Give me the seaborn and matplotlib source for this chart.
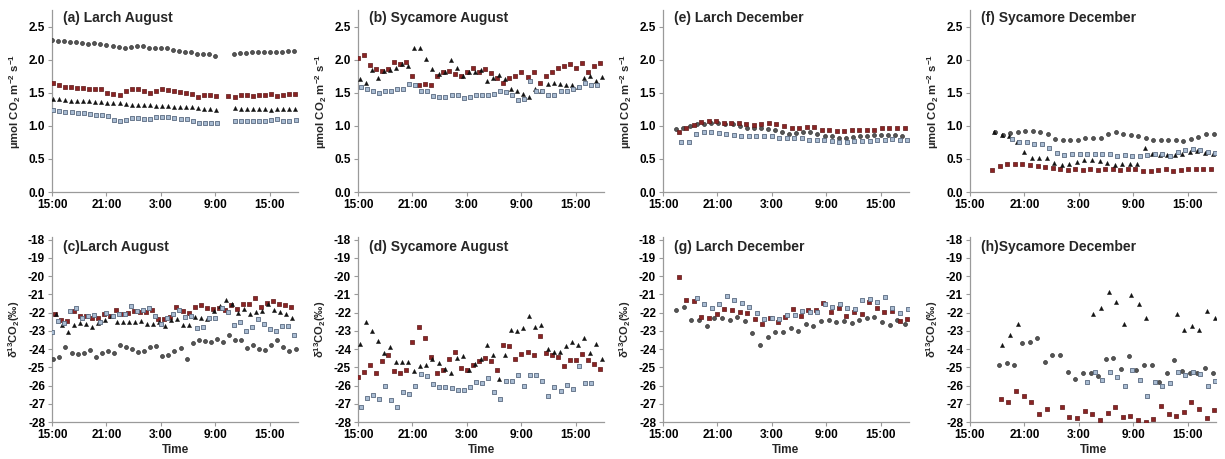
import numpy as np
import matplotlib
matplotlib.use("Agg")
import matplotlib.pyplot as plt
import seaborn as sns

# ---------------- data (hours after 15:00 on day 1) ----------------
x_ticks = [0, 6, 12, 18, 24]
x_ticklabels = ["15:00", "21:00", "3:00", "9:00", "15:00"]
flux_ticks = [0.0, 0.5, 1.0, 1.5, 2.0, 2.5]
d13_ticks = [-18, -19, -20, -21, -22, -23, -24, -25, -26, -27, -28]

titles = ["(a) Larch August", "(b) Sycamore August", "(e) Larch December", "(f) Sycamore December",
          "(c)Larch August", "(d) Sycamore August", "(g) Larch December", "(h)Sycamore December"]

# (a) Larch August flux
a_gray = [2.30,2.28,2.28,2.27,2.26,2.25,2.24,2.25,2.23,2.22,2.21,2.19,2.17,2.19,2.20,2.20,2.18,2.17,2.18,2.17,2.15,2.13,2.12,2.11,2.09,2.08,2.08,2.06,None,None,2.09,2.10,2.10,2.11,2.11,2.11,2.12,2.12,2.12,2.13,2.13]
a_red = [1.64,1.61,1.58,1.58,1.57,1.57,1.56,1.56,1.55,1.50,1.48,1.47,1.52,1.55,1.55,1.52,1.50,1.53,1.55,1.54,1.52,1.51,1.50,1.48,1.44,1.46,1.47,1.45,None,1.45,1.43,1.46,1.46,1.45,1.47,1.47,1.48,1.45,1.47,1.48,1.48]
a_tri = [1.40,1.40,1.39,1.38,1.38,1.37,1.37,1.36,1.36,1.35,1.35,1.35,1.33,1.31,1.31,1.31,1.31,1.30,1.30,1.30,1.29,1.29,1.28,1.28,1.27,1.26,1.25,1.24,None,None,1.27,1.26,1.26,1.25,1.25,1.25,1.24,1.25,1.25,1.25,1.25]
a_blue = [1.24,1.23,1.21,1.21,1.20,1.19,1.18,1.17,1.17,1.15,1.09,1.07,1.09,1.12,1.12,1.11,1.11,1.13,1.14,1.13,1.12,1.11,1.10,1.08,1.05,1.05,1.05,1.05,None,None,1.08,1.07,1.07,1.07,1.08,1.08,1.09,1.10,1.08,1.08,1.09]

# (b) Sycamore August flux
b_red = [2.03,2.07,1.92,1.86,1.83,1.86,1.97,1.93,1.97,1.76,1.61,1.63,1.61,1.76,1.82,1.83,1.78,1.76,1.82,1.87,1.82,1.86,1.80,1.73,1.65,1.73,1.75,1.82,1.74,1.81,1.65,1.75,1.81,1.87,1.91,1.93,1.87,1.95,1.82,1.91,1.95]
b_tri = [1.70,1.65,1.84,1.73,1.83,1.85,1.88,1.93,1.91,2.17,2.18,2.01,1.86,1.79,1.81,2.00,1.87,1.76,1.81,1.81,1.85,1.68,1.72,1.77,1.71,1.55,1.53,1.48,1.43,1.55,1.53,1.63,1.65,1.63,1.62,1.61,1.59,1.72,1.75,1.67,1.74]
b_blue = [1.58,1.55,1.52,1.49,1.53,1.53,1.56,1.55,1.63,1.61,1.53,1.52,1.45,1.44,1.43,1.46,1.47,1.42,1.43,1.46,1.46,1.46,1.48,1.53,1.51,1.47,1.39,1.41,1.68,1.53,1.53,1.47,1.47,1.52,1.52,1.55,1.58,1.64,1.62,1.61]

# (e) Larch December flux
e_gray = [0.95,0.97,0.99,1.02,1.02,1.04,1.05,1.03,1.02,0.99,0.96,0.96,0.97,0.95,0.93,0.90,0.88,0.89,0.91,0.91,0.88,0.85,0.84,0.82,0.82,0.83,0.85,0.85,0.86,0.86,0.86,0.86,0.85]
e_red = [0.91,0.97,1.01,1.06,1.08,1.07,1.05,1.05,1.04,1.02,1.01,1.03,1.04,1.02,1.00,0.97,0.96,0.98,0.98,0.94,0.93,0.92,0.92,0.93,0.94,0.94,0.94,0.96,0.97,0.97,0.97]
e_blue = [0.76,0.76,0.88,0.90,0.90,0.89,0.88,0.86,0.85,0.85,0.85,0.85,0.84,0.82,0.82,0.82,0.81,0.79,0.79,0.78,0.77,0.76,0.76,0.77,0.77,0.77,0.78,0.79,0.80,0.79,0.79]

# (f) Sycamore December flux
f_gray = [0.90,0.86,0.89,0.91,0.92,0.92,0.90,0.88,0.80,0.78,0.79,0.79,0.82,0.82,0.82,0.87,0.91,0.88,0.86,0.85,0.82,0.79,0.78,0.78,0.78,0.77,0.80,0.83,0.88,0.88]
f_red = [0.33,0.40,0.42,0.42,0.42,0.41,0.39,0.38,0.36,0.35,0.33,0.34,0.33,0.34,0.33,0.35,0.35,0.33,0.34,0.35,0.32,0.32,0.33,0.34,0.32,0.33,0.35,0.35,0.35,0.34]
f_tri = [0.91,0.86,0.85,0.76,0.60,0.52,0.51,0.51,0.44,0.41,0.42,0.46,0.48,0.48,0.47,0.44,0.41,0.42,0.42,0.42,0.67,0.58,0.56,0.56,0.56,0.57,0.60,0.62,0.59,0.58]
f_blue = [0.80,0.76,0.75,0.73,0.72,0.66,0.59,0.56,0.57,0.58,0.58,0.58,0.58,0.57,0.55,0.56,0.55,0.55,0.56,0.57,0.57,0.55,0.60,0.63,0.65,0.64,0.61,0.59]

# (c) Larch August d13C
c_gray = [-24.55,-24.45,-23.9,-24.2,-24.25,-24.2,-24.05,-24.45,-24.2,-24.1,-24.2,-23.8,-23.9,-24.0,-24.15,-24.1,-23.9,-23.85,-24.4,-24.3,-24.1,-23.95,-24.55,-23.65,-23.5,-23.55,-23.6,-23.45,-23.6,-23.2,-23.5,-23.5,-23.95,-23.8,-24.0,-24.05,-23.75,-23.5,-23.9,-24.1,-24.0]
c_red = [-22.1,-22.4,-22.45,-21.9,-22.2,-22.2,-22.3,-22.3,-22.05,-22.2,-21.85,-22.05,-22.0,-21.9,-21.95,-21.95,-21.85,-22.35,-22.35,-22.25,-21.7,-21.9,-22.0,-21.7,-21.6,-21.75,-21.8,-21.75,-21.85,-21.6,-21.8,-21.5,-21.55,-21.2,-21.7,-21.45,-21.35,-21.55,-21.6,-21.7]
c_tri = [-22.1,-22.7,-23.05,-22.7,-22.55,-22.6,-22.8,-22.55,-22.4,-22.2,-22.5,-22.5,-22.5,-22.5,-22.45,-22.6,-22.6,-22.5,-22.75,-22.4,-22.35,-22.7,-22.7,-22.25,-22.3,-22.35,-21.9,-21.65,-21.3,-21.55,-22.0,-21.8,-22.05,-21.95,-21.9,-21.55,-21.85,-21.95,-22.1,-22.3]
c_blue = [-23.05,-22.45,-22.55,-21.9,-21.75,-22.3,-22.2,-22.15,-22.5,-22.0,-22.2,-22.05,-22.05,-21.65,-21.9,-21.85,-21.75,-22.2,-22.6,-22.3,-22.05,-21.85,-22.25,-22.2,-22.85,-22.8,-22.3,-22.3,-21.75,-21.95,-22.7,-22.5,-23.0,-22.8,-22.35,-22.6,-22.9,-23.0,-22.75,-22.75,-23.2]

# (d) Sycamore August d13C
d_red = [-25.55,-25.25,-24.85,-25.3,-24.65,-24.3,-25.2,-25.3,-25.15,-23.6,-22.8,-23.4,-24.45,-25.3,-25.15,-24.55,-24.15,-25.05,-25.15,-24.85,-24.65,-24.5,-24.65,-25.15,-23.75,-23.85,-24.55,-24.25,-24.15,-24.3,-23.3,-24.2,-24.3,-24.45,-24.95,-24.6,-24.6,-24.25,-24.6,-24.8,-25.1]
d_tri = [-23.7,-22.5,-23.0,-23.55,-24.2,-23.9,-24.7,-24.7,-24.7,-25.2,-24.95,-24.9,-24.55,-24.75,-25.1,-25.3,-24.5,-24.4,-25.15,-24.8,-24.55,-23.8,-24.3,-25.65,-24.3,-22.95,-23.0,-22.85,-22.2,-22.8,-22.7,-24.0,-24.15,-24.15,-23.85,-23.6,-23.75,-23.4,-24.2,-23.7,-24.55]
d_blue = [-27.2,-26.7,-26.5,-26.75,-26.05,-26.8,-27.2,-26.35,-26.45,-26.0,-25.35,-25.5,-25.9,-26.1,-26.1,-26.15,-26.25,-26.25,-26.1,-25.8,-25.85,-25.6,-26.35,-26.75,-25.75,-25.75,-25.4,-26.0,-25.4,-25.4,-25.75,-26.6,-26.1,-26.3,-25.95,-26.2,-24.95,-25.85,-25.85]

# (g) Larch December d13C
g_gray = [-21.85,-21.7,-22.4,-22.4,-22.75,-22.3,-22.3,-22.4,-22.25,-22.45,-23.1,-23.8,-23.35,-23.05,-23.05,-22.85,-23.0,-22.65,-22.75,-22.45,-22.4,-22.5,-22.45,-22.55,-22.4,-22.3,-22.25,-22.5,-22.7,-22.4,-22.65]
g_red = [-20.05,-21.3,-21.35,-22.25,-22.3,-22.1,-21.8,-21.85,-21.95,-22.0,-22.35,-22.6,-22.3,-22.5,-22.25,-21.8,-22.2,-21.85,-21.85,-21.45,-21.95,-21.75,-22.2,-21.95,-22.05,-21.4,-21.75,-21.95,-21.9,-22.45,-22.35]
g_blue = [-21.2,-21.5,-21.75,-21.5,-21.1,-21.3,-21.45,-21.7,-22.0,-22.35,-22.3,-22.35,-22.15,-22.15,-21.9,-21.95,-21.95,-21.5,-21.7,-21.55,-21.75,-21.8,-21.3,-21.25,-21.4,-21.15,-21.75,-22.0,-21.8]

# (h) Sycamore December d13C
h_gray = [-24.9,-24.75,-24.85,-23.65,-23.6,-23.4,-24.7,-24.35,-24.35,-25.25,-25.65,-25.3,-25.3,-25.5,-24.55,-24.5,-25.1,-24.4,-25.15,-24.9,-24.85,-25.8,-25.3,-24.6,-25.2,-25.3,-25.3,-25.05,-25.3]
h_red = [-26.75,-26.9,-26.3,-26.55,-26.9,-27.55,-27.3,None,-27.15,-27.7,-27.8,-27.4,-27.55,-27.9,-27.5,-27.2,-27.7,-27.65,-27.9,-28.0,-27.85,-27.1,-27.55,-27.65,-27.45,-26.9,-27.3,-27.8,-27.35]
h_tri = [-23.8,-23.2,-22.6,None,None,None,None,None,None,None,None,None,-22.1,-21.75,-20.85,-21.4,-22.6,-21.05,-21.55,-22.3,None,None,None,-22.05,-22.95,-22.75,-22.95,-21.9,-22.3]
h_blue = [-25.8,-25.25,-25.7,-25.25,-25.55,-26.05,-25.15,-25.7,-26.6,-25.8,-26.0,-25.85,-25.25,-25.4,-25.25,-25.35,-26.05,-25.75]

# sampling schedule per series: (first sample hour, interval in hours)
panels = [
    [("gray", 0.0, 0.667, a_gray), ("red", 0.1, 0.667, a_red), ("tri", 0.1, 0.667, a_tri), ("blue", 0.15, 0.667, a_blue)],
    [("red", 0.0, 0.667, b_red), ("tri", 0.2, 0.667, b_tri), ("blue", 0.3, 0.667, b_blue)],
    [("gray", 1.42, 0.78, e_gray), ("red", 1.71, 0.83, e_red), ("blue", 2.0, 0.83, e_blue)],
    [("gray", 2.76, 0.83, f_gray), ("red", 2.46, 0.83, f_red), ("tri", 2.65, 0.83, f_tri), ("blue", 4.6, 0.83, f_blue)],
    [("gray", 0.15, 0.667, c_gray), ("red", 0.37, 0.667, c_red), ("tri", 0.45, 0.667, c_tri), ("blue", 0.0, 0.667, c_blue)],
    [("red", 0.0, 0.667, d_red), ("tri", 0.2, 0.667, d_tri), ("blue", 0.3, 0.667, d_blue)],
    [("gray", 1.45, 0.84, g_gray), ("red", 1.71, 0.84, g_red), ("blue", 3.7, 0.83, g_blue)],
    [("gray", 3.2, 0.84, h_gray), ("red", 3.4, 0.84, h_red), ("tri", 3.57, 0.835, h_tri), ("blue", 12.9, 0.83, h_blue)],
]

# ---------------- style ----------------
sns.set_style("ticks")
plt.rcParams["font.family"] = ["Liberation Sans", "DejaVu Sans"]
plt.rcParams["font.weight"] = "bold"
plt.rcParams["mathtext.fontset"] = "custom"
plt.rcParams["mathtext.rm"] = "Liberation Sans:bold"
plt.rcParams["mathtext.it"] = "Liberation Sans:bold"
plt.rcParams["mathtext.bf"] = "Liberation Sans:bold"
plt.rcParams["mathtext.default"] = "bf"

STYLE = {
    "gray": dict(marker="o", color="#555555", edgecolor="#333333", s=8, linewidth=0.5),
    "red":  dict(marker="s", color="#8a2424", edgecolor="#5e1717", s=7, linewidth=0.5),
    "tri":  dict(marker="^", color="#111111", edgecolor="#111111", s=9, linewidth=0.3),
    "blue": dict(marker="s", color="#a9bcd2", edgecolor="#5a6a80", s=7, linewidth=0.6),
}

fig = plt.figure(figsize=(12.25, 4.59), dpi=100)

lefts = [52, 358, 663, 970]
W, H = 1225.0, 459.0
aw = 246
top_row = (10, 192)
bot_row = (237, 422)

for i, series_list in enumerate(panels):
    row, col = divmod(i, 4)
    t0, t1 = top_row if row == 0 else bot_row
    ax = fig.add_axes([lefts[col] / W, 1 - t1 / H, aw / W, (t1 - t0) / H])
    for key, start, step, vals in series_list:
        v = np.array([np.nan if x is None else x for x in vals], dtype=float)
        t = start + step * np.arange(len(v))
        m = ~np.isnan(v)
        sns.scatterplot(x=t[m], y=v[m], ax=ax, legend=False, zorder=3, clip_on=True, **STYLE[key])
    ax.set_xlim(0, 27.1)
    ax.set_xticks(x_ticks)
    ax.set_xticklabels(x_ticklabels)
    if row == 0:
        ax.set_ylim(0, 2.75)
        ax.set_yticks(flux_ticks)
        ax.set_yticklabels([f"{v:.1f}" for v in flux_ticks])
        ax.set_ylabel(r"µmol CO$_2$ m$^{-2}$ s$^{-1}$", fontsize=8.2, fontweight="bold", labelpad=4)
        ty = 0.955
    else:
        ax.set_ylim(-28, -17.85)
        ax.set_yticks(d13_ticks)
        ax.set_yticklabels([str(v) for v in d13_ticks])
        ax.set_ylabel(r"δ$^{13}$CO$_2$(‰)", fontsize=8, fontweight="bold", labelpad=4)
        ax.set_xlabel("Time", fontsize=8.5, fontweight="bold", labelpad=2)
        ty = 0.945
    ax.text(0.045, ty, titles[i], transform=ax.transAxes, fontsize=10, fontweight="bold",
            ha="left", va="center")
    for sp in ["top", "right"]:
        ax.spines[sp].set_visible(False)
    for sp in ["left", "bottom"]:
        ax.spines[sp].set_color("#9a9a9a")
        ax.spines[sp].set_linewidth(0.9)
    ax.tick_params(axis="both", labelsize=8.5, length=3, width=0.8, color="#9a9a9a",
                   labelcolor="black", pad=2)

fig.savefig("out.png", dpi=100)
